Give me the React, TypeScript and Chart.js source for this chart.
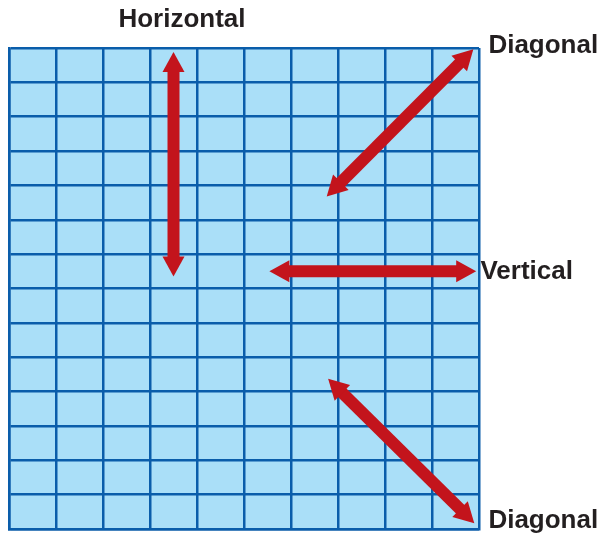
import React, { useEffect, useRef } from "react";
import { Chart, registerables } from "chart.js";

Chart.register(...registerables);

// Grid extent (columns x rows)
const gridColumns = 10;
const gridRows = 14;

// Arrows: [x1, y1, x2, y2] in grid units
const arrowNames = ["Horizontal", "Diagonal up", "Vertical", "Diagonal down"];
const arrowStartX = [3.5, 9.88, 5.54, 6.79];
const arrowStartY = [13.88, 13.96, 7.5, 4.37];
const arrowEndX = [3.5, 6.76, 9.94, 9.9];
const arrowEndY = [7.35, 9.68, 7.5, 0.17];

// Labels
const labelTexts = ["Horizontal", "Diagonal", "Vertical", "Diagonal"];
const labelX = [3.68, 10.2, 10.03, 10.2];
const labelY = [14.6, 13.85, 7.27, 0.03];
const labelAlign = ["center", "left", "left", "left"];

const BG = "#aadff8";
const GRID = "#0a5daa";
const RED = "#c3141c";
const TEXT = "#231f20";

const fillPlugin = {
  id: "fillArea",
  beforeDraw(chart: any) {
    const { ctx, chartArea } = chart;
    ctx.save();
    ctx.fillStyle = BG;
    ctx.fillRect(chartArea.left, chartArea.top, chartArea.right - chartArea.left, chartArea.bottom - chartArea.top);
    ctx.restore();
  },
};

const arrowPlugin = {
  id: "arrows",
  afterDatasetsDraw(chart: any) {
    const ctx = chart.ctx;
    chart.data.datasets.forEach((ds: any, i: number) => {
      const meta = chart.getDatasetMeta(i);
      if (meta.data.length < 2) return;
      const a = meta.data[0];
      const b = meta.data[1];
      const dx = b.x - a.x;
      const dy = b.y - a.y;
      const len = Math.hypot(dx, dy);
      const ux = dx / len;
      const uy = dy / len;
      const nx = -uy;
      const ny = ux;
      const shaft = 12;
      const headW = 22;
      const headL = 20;
      ctx.save();
      ctx.fillStyle = ds.borderColor;
      const sx1 = a.x + ux * headL * 0.9;
      const sy1 = a.y + uy * headL * 0.9;
      const sx2 = b.x - ux * headL * 0.9;
      const sy2 = b.y - uy * headL * 0.9;
      ctx.beginPath();
      ctx.moveTo(sx1 + nx * shaft / 2, sy1 + ny * shaft / 2);
      ctx.lineTo(sx2 + nx * shaft / 2, sy2 + ny * shaft / 2);
      ctx.lineTo(sx2 - nx * shaft / 2, sy2 - ny * shaft / 2);
      ctx.lineTo(sx1 - nx * shaft / 2, sy1 - ny * shaft / 2);
      ctx.closePath();
      ctx.fill();
      const head = (tx: number, ty: number, dirx: number, diry: number) => {
        const bx = tx - dirx * headL;
        const by = ty - diry * headL;
        ctx.beginPath();
        ctx.moveTo(tx, ty);
        ctx.lineTo(bx + nx * headW / 2, by + ny * headW / 2);
        ctx.lineTo(bx - nx * headW / 2, by - ny * headW / 2);
        ctx.closePath();
        ctx.fill();
      };
      head(b.x, b.y, ux, uy);
      head(a.x, a.y, -ux, -uy);
      ctx.restore();
    });
  },
};

const labelPlugin = {
  id: "labels",
  afterDraw(chart: any) {
    const { ctx, scales } = chart;
    ctx.save();
    ctx.fillStyle = TEXT;
    ctx.font = "bold 26px 'Liberation Sans', Arial, sans-serif";
    ctx.textBaseline = "alphabetic";
    labelTexts.forEach((t, i) => {
      ctx.textAlign = labelAlign[i] as CanvasTextAlign;
      ctx.fillText(t, scales.x.getPixelForValue(labelX[i]), scales.y.getPixelForValue(labelY[i]));
    });
    ctx.restore();
  },
};

export default function App() {
  const ref = useRef<HTMLCanvasElement>(null);
  useEffect(() => {
    if (!ref.current) return;
    const chart = new Chart(ref.current, {
      type: "scatter",
      data: {
        datasets: arrowNames.map((name, i) => ({
          label: name,
          data: [
            { x: arrowStartX[i], y: arrowStartY[i] },
            { x: arrowEndX[i], y: arrowEndY[i] },
          ],
          showLine: false,
          pointRadius: 0,
          borderColor: RED,
          backgroundColor: RED,
        })),
      },
      options: {
        responsive: false,
        animation: false,
        layout: { padding: { left: 9, right: 122, top: 48, bottom: 6 } },
        plugins: { legend: { display: false }, tooltip: { enabled: false } },
        scales: {
          x: {
            type: "linear",
            min: 0,
            max: gridColumns,
            ticks: { display: false, stepSize: 1 },
            grid: { color: GRID, lineWidth: 2.5, drawTicks: false },
            border: { display: true, color: GRID, width: 2.5 },
          },
          y: {
            type: "linear",
            min: 0,
            max: gridRows,
            ticks: { display: false, stepSize: 1 },
            grid: { color: GRID, lineWidth: 2.5, drawTicks: false },
            border: { display: true, color: GRID, width: 2.5 },
          },
        },
      },
      plugins: [fillPlugin, arrowPlugin, labelPlugin],
    });
    return () => chart.destroy();
  }, []);
  return (
    <div style={{ position: "absolute", left: 0, top: 0, width: 601, height: 535, background: "#fff" }}>
      <canvas ref={ref} width={601} height={535} style={{ display: "block" }} />
    </div>
  );
}
